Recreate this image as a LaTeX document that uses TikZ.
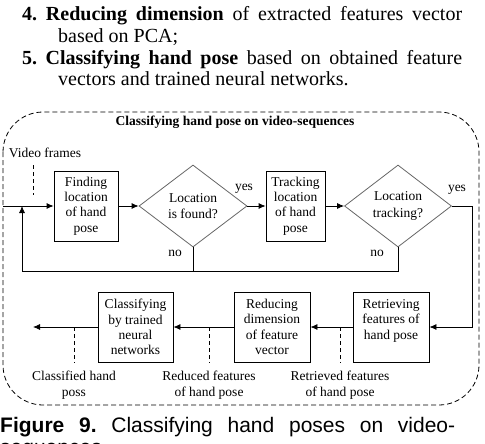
\documentclass[tikz,border=0pt]{standalone}
\usepackage{fontspec}
\setmainfont{Liberation Serif}
\newfontfamily\captionfont{Liberation Sans}
\usetikzlibrary{shapes.geometric,arrows.meta,positioning}
\frenchspacing

\begin{document}
\begin{tikzpicture}[x=1pt, y=-1pt, node distance=107pt, auto]
        \useasboundingbox (0,0) rectangle (485,444);
        \clip (0,0) rectangle (485,444);
        % Define block styles
        \tikzstyle{block} = [rectangle, draw, line width=0.8pt, align=center, minimum height=70pt, inner sep=0pt, font=\fontsize{13.5}{15.3}\selectfont]
        \tikzstyle{decision} = [diamond, draw=black!60, line width=0.8pt, aspect=1.32, minimum width=108pt, minimum height=82pt, inner sep=0pt, align=center, font=\fontsize{13.5}{16.5}\selectfont]
        \tikzstyle{line} = [draw, line width=0.8pt, -{Latex[length=7pt,width=6pt]}]
        \tikzstyle{tick} = [draw, line width=0.8pt, dash pattern=on 4pt off 3pt]
        \tikzstyle{note} = [align=center, inner sep=0pt, font=\fontsize{13.5}{16.5}\selectfont]
        \tikzstyle{bodytext} = [anchor=base west, inner sep=0pt, font=\fontsize{20}{21.7}\selectfont]

        % Text above the figure
        \node [bodytext] (item4) at (22,21) {\makebox[440pt][s]{\textbf{4. Reducing dimension} of extracted features vector}};
        \node [bodytext] (item4b) at (58,43) {based on PCA;};
        \node [bodytext] (item5) at (22,65) {\makebox[440pt][s]{\textbf{5. Classifying hand pose} based on obtained feature}};
        \node [bodytext] (item5b) at (58,86) {vectors and trained neural networks.};

        % Frame
        \draw [line width=0.8pt, dash pattern=on 5pt off 3pt, rounded corners=40pt] (3,112) rectangle (479,405);
        \node [note, font=\bfseries\fontsize{13.5}{16}\selectfont] (title) at (235,122) {Classifying hand pose on video-sequences};

        % Place nodes
        \node [note] (frames) at (45,153) {Video frames};
        \coordinate (in) at (3,206);
        \node [block, minimum width=64pt] (find) at (86,206) {Finding\\location\\of hand\\pose};
        \node [decision, right of=find] (found) {Location\\is found?};
        \node [block, minimum width=59pt, right of=found, node distance=102.5pt] (track) {Tracking\\location\\of hand\\pose};
        \node [decision, minimum width=107pt, right of=track, node distance=102.5pt] (tracking) {Location\\tracking?};

        \node [block, minimum width=76pt] (retr) at (391,327) {Retrieving\\features of\\hand pose\\~};
        \node [block, minimum width=76pt, left of=retr, node distance=119pt] (redu) {Reducing\\dimension\\of feature\\vector};
        \node [block, minimum width=75pt, left of=redu, node distance=136.5pt] (clas) {Classifying\\by trained\\neural\\networks};
        \coordinate (out) at (33,327);

        \node [note] (yes1) at (244,189) {yes};
        \node [note] (no1) at (175,253) {no};
        \node [note] (yes2) at (457,190) {yes};
        \node [note] (no2) at (377,253) {no};

        \node [note] (retrnote) at (340,385) {Retrieved features\\of hand pose};
        \node [note] (redunote) at (209,385) {Reduced features\\of hand pose};
        \node [note] (clasnote) at (74,385) {Classified hand\\poss};

        % Connectors
        \path [line] (in) -- (find);
        \path [line] (find) -- (found);
        \path [line] (found) -- (track);
        \path [line] (track) -- (tracking);
        \coordinate (turn) at (472,206);
        \path [line] (tracking.east) -- (turn) |- (retr.east);
        \coordinate (fb) at (22,271);
        \path [line] (tracking.south) |- (fb) -- (fb |- in);
        \draw [line width=0.8pt] (found.south) -- (found.south |- fb);
        \path [line] (retr) -- (redu);
        \path [line] (redu) -- (clas);
        \path [line] (clas) -- (out);

        % Dashed ticks
        \coordinate (t0) at (33,165);
        \path [tick] (t0) -- ++(0,30);
        \path [tick] (retr.west -| retrnote) -- (retrnote.north |- redu.south);
        \path [tick] (redu.west -| redunote) -- (redunote.north |- redu.south);
        \path [tick] (clas.west -| clasnote) -- (clasnote.north |- clas.south);

        % Caption
        \node [bodytext, font=\captionfont\fontsize{21}{24}\selectfont] (caption) at (0,432) {\makebox[455pt][s]{\textbf{Figure 9.} Classifying hand poses on video-}};
        \node [bodytext, font=\captionfont\fontsize{21}{24}\selectfont] (caption2) at (0,454) {sequences};
    \end{tikzpicture}
\end{document}
